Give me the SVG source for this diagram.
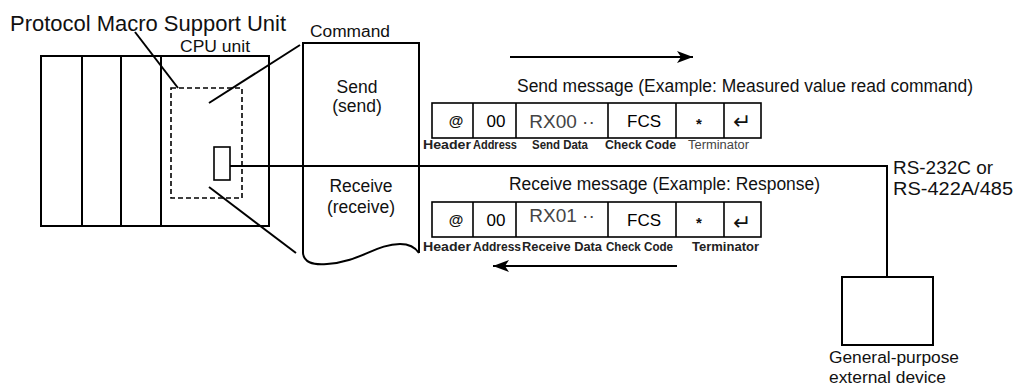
<svg xmlns="http://www.w3.org/2000/svg" width="1029" height="388" viewBox="0 0 1029 388">
<style>
  .ln{fill:none;stroke:#000;stroke-width:2}
  .thin{fill:none;stroke:#000;stroke-width:1.6}
  .dash{fill:none;stroke:#000;stroke-width:1.6;stroke-dasharray:5,3}
  text{font-family:"Liberation Sans",Arial,Helvetica,sans-serif;fill:#111}
  .big{font-size:18px}
  .mid{font-size:17.5px}
  .cell{font-size:17px;text-anchor:middle;fill:#000}
  .at{font-size:15px;text-anchor:middle;font-weight:bold}
  .star{font-size:15px;text-anchor:middle;font-weight:bold}
  .ret{font-size:22px;text-anchor:middle;font-family:"DejaVu Sans",sans-serif}
  .data{font-size:19px;text-anchor:middle;fill:#444}
  .lab{font-size:12.5px;font-weight:bold;fill:#222}
  .labg{font-size:12.5px;fill:#444}
</style>
<defs>
  <marker id="ah" markerWidth="16" markerHeight="12" refX="16" refY="6" orient="auto" markerUnits="userSpaceOnUse">
    <path d="M0,0 L16,6 L0,12 L4,6 Z" fill="#000"/>
  </marker>
</defs>

<g id="title">
  <text x="10" y="31" font-size="22" textLength="276" lengthAdjust="spacingAndGlyphs">Protocol Macro Support Unit</text>
</g>

<g id="cpu-rack">
  <rect class="ln" x="41" y="56" width="228" height="170"/>
  <line class="ln" x1="82" y1="56" x2="82" y2="226"/>
  <line class="ln" x1="121" y1="56" x2="121" y2="226"/>
  <line class="ln" x1="161" y1="56" x2="161" y2="226"/>
  <text x="215" y="52" font-size="16" text-anchor="middle" textLength="70" lengthAdjust="spacingAndGlyphs">CPU unit</text>
</g>

<g id="pmsu">
  <rect class="dash" x="171" y="88" width="71" height="110"/>
  <rect class="thin" x="214" y="147" width="16" height="33"/>
</g>

<g id="command">
  <text x="310" y="37" font-size="16" textLength="80" lengthAdjust="spacingAndGlyphs">Command</text>
  <path class="ln" d="M303,253 L303,43 L419,43 L419,253"/>
  <path class="ln" d="M303,253 Q304,266 327,264 C360,262 376,244 400,244 Q413,244 419,253"/>
  <text class="mid" x="357" y="93" text-anchor="middle">Send</text>
  <text class="mid" x="357" y="112" text-anchor="middle">(send)</text>
  <text class="mid" x="361" y="192" text-anchor="middle">Receive</text>
  <text class="mid" x="361" y="213" text-anchor="middle">(receive)</text>
</g>

<g id="send-message">
  <text class="mid" x="517" y="92" textLength="456" lengthAdjust="spacingAndGlyphs">Send message (Example: Measured value read command)</text>
  <rect class="thin" x="432" y="103" width="329" height="35"/>
  <line class="thin" x1="473" y1="103" x2="473" y2="138"/>
  <line class="thin" x1="516" y1="103" x2="516" y2="138"/>
  <line class="thin" x1="608" y1="103" x2="608" y2="138"/>
  <line class="thin" x1="676" y1="103" x2="676" y2="138"/>
  <line class="thin" x1="724" y1="103" x2="724" y2="138"/>
  <text class="at" x="456" y="126">@</text>
  <text class="cell" x="496" y="127">00</text>
  <text class="data" x="562" y="128">RX00 ··</text>
  <text class="cell" x="644" y="127">FCS</text>
  <text class="star" x="699" y="129">*</text>
  <text class="ret" x="742" y="129">↵</text>
  <text class="lab" x="423" y="149" textLength="48" lengthAdjust="spacingAndGlyphs">Header</text>
  <text class="lab" x="473" y="149" textLength="44" lengthAdjust="spacingAndGlyphs">Address</text>
  <text class="lab" x="532" y="149" textLength="56" lengthAdjust="spacingAndGlyphs">Send Data</text>
  <text class="lab" x="605" y="149" textLength="71" lengthAdjust="spacingAndGlyphs">Check Code</text>
  <text class="labg" x="688" y="149" textLength="61" lengthAdjust="spacingAndGlyphs">Terminator</text>
</g>

<g id="receive-message">
  <text class="mid" x="509" y="190" textLength="311" lengthAdjust="spacingAndGlyphs">Receive message (Example: Response)</text>
  <rect class="thin" x="432" y="202" width="329" height="35"/>
  <line class="thin" x1="473" y1="202" x2="473" y2="237"/>
  <line class="thin" x1="516" y1="202" x2="516" y2="237"/>
  <line class="thin" x1="608" y1="202" x2="608" y2="237"/>
  <line class="thin" x1="676" y1="202" x2="676" y2="237"/>
  <line class="thin" x1="724" y1="202" x2="724" y2="237"/>
  <text class="at" x="456" y="225">@</text>
  <text class="cell" x="496" y="226">00</text>
  <text class="data" x="562" y="222">RX01 ··</text>
  <text class="cell" x="644" y="226">FCS</text>
  <text class="star" x="699" y="228">*</text>
  <text class="ret" x="742" y="230">↵</text>
  <text class="lab" x="423" y="251" textLength="48" lengthAdjust="spacingAndGlyphs">Header</text>
  <text class="lab" x="473" y="251" textLength="48" lengthAdjust="spacingAndGlyphs">Address</text>
  <text class="lab" x="522" y="251" textLength="80" lengthAdjust="spacingAndGlyphs">Receive Data</text>
  <text class="lab" x="606" y="251" textLength="67" lengthAdjust="spacingAndGlyphs">Check Code</text>
  <text class="lab" x="692" y="251" textLength="67" lengthAdjust="spacingAndGlyphs">Terminator</text>
</g>

<g id="device">
  <rect class="ln" x="842" y="277" width="91" height="68"/>
  <text x="829" y="363" font-size="16" textLength="130" lengthAdjust="spacingAndGlyphs">General-purpose</text>
  <text x="829" y="383" font-size="16" textLength="117" lengthAdjust="spacingAndGlyphs">external device</text>
</g>

<g id="interface-label">
  <text class="big" x="893" y="174" textLength="100" lengthAdjust="spacingAndGlyphs">RS-232C or</text>
  <text class="big" x="893" y="195" textLength="120" lengthAdjust="spacingAndGlyphs">RS-422A/485</text>
</g>

<g id="connectors">
  <line class="ln" x1="510" y1="57" x2="693" y2="57" marker-end="url(#ah)"/>
  <line class="ln" x1="677" y1="266" x2="493" y2="266" marker-end="url(#ah)"/>
  <polyline class="ln" points="230,166 887,166 887,277"/>
  <line class="ln" x1="135" y1="32" x2="178" y2="88"/>
  <line class="ln" x1="209" y1="103" x2="300" y2="45"/>
  <line class="ln" x1="209" y1="187" x2="296" y2="253"/>
</g>
</svg>
